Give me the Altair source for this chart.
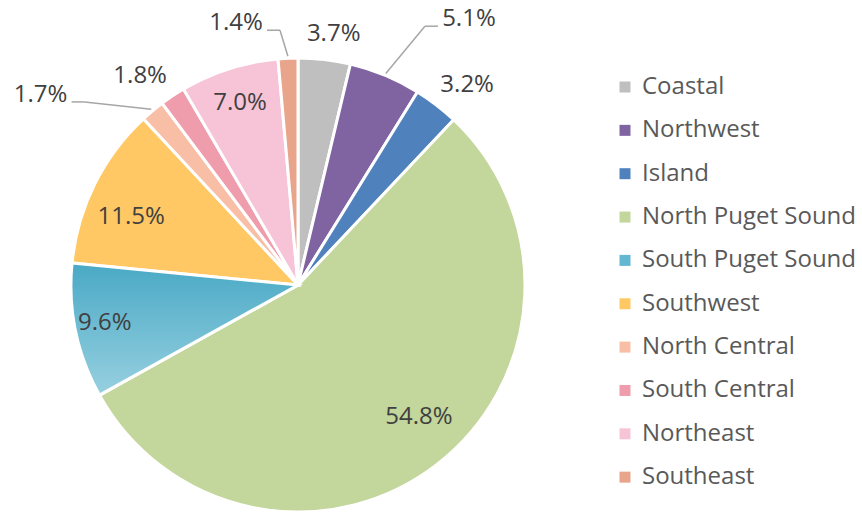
import altair as alt
import pandas as pd

# ---- data ----
regions = ["Coastal", "Northwest", "Island", "North Puget Sound", "South Puget Sound",
           "Southwest", "North Central", "South Central", "Northeast", "Southeast"]
shares = [3.7, 5.1, 3.2, 54.8, 9.6, 11.5, 1.7, 1.8, 7.0, 1.4]

# ---- styling / layout ----
colors = ["#BFBFBF", "#8064A2", "#4F81BD", "#C3D69B", "#62B8D0",
          "#FFC864", "#F8BFA6", "#EF9CAD", "#F6C4D6", "#E8A58C"]
label_radius = [254, 316, 262, 179, 197, 180, 320, 262, 191, 269]
label_shift_deg = [1.4, 10.2, 2.7, -4.6, 0.6, -4.3, -13.7, -3.5, 0.0, -10.8]
leader = [False, True, False, False, False, False, True, False, False, True]

CX, CY, R = 298, 285, 227

df = pd.DataFrame({
    "region": regions,
    "value": shares,
    "order": list(range(len(regions))),
    "lr": label_radius,
    "ls": label_shift_deg,
    "leader": leader,
})

base = (
    alt.Chart(df)
    .transform_joinaggregate(total="sum(value)")
    .transform_window(cum="sum(value)", sort=[alt.SortField("order")], frame=[None, 0])
    .transform_calculate(t0="2*PI*(datum.cum-datum.value)/datum.total")
    .transform_calculate(t1="2*PI*datum.cum/datum.total")
    .transform_calculate(tm="(datum.t0+datum.t1)/2")
    .transform_calculate(tl="datum.tm + datum.ls*PI/180")
    .transform_calculate(label="format(datum.value, '.1f') + '%'")
)

arcs = base.mark_arc(outerRadius=R, stroke="white", strokeWidth=3).encode(
    theta=alt.Theta("t0:Q", scale=None),
    theta2="t1:Q",
    x=alt.value(CX),
    y=alt.value(CY),
    color=alt.Color(
        "region:N",
        scale=alt.Scale(domain=regions, range=colors),
        sort=regions,
        legend=alt.Legend(title=None, orient="none", legendX=613, legendY=75,
                          symbolType="square", symbolSize=121, symbolStrokeWidth=0,
                          labelFontSize=24, labelFont="Open Sans", labelColor="#595959",
                          labelLimit=400, rowPadding=19.35, labelOffset=5, padding=0),
    ),
)

grad = alt.LinearGradient(
    gradient="linear",
    stops=[alt.GradientStop(offset=0, color="#49A9C5"),
           alt.GradientStop(offset=1, color="#97D0E0")],
    x1=0, x2=0, y1=0, y2=1,
)
sps = base.transform_filter(alt.datum.region == "South Puget Sound").mark_arc(
    outerRadius=R, stroke="white", strokeWidth=3, fill=grad
).encode(
    theta=alt.Theta("t0:Q", scale=None),
    theta2="t1:Q",
    x=alt.value(CX),
    y=alt.value(CY),
)

labels = base.mark_text(font="Open Sans", fontSize=24, color="#404040",
                        align="center", baseline="middle").encode(
    theta=alt.Theta("tl:Q", scale=None),
    radius=alt.Radius("lr:Q", scale=None),
    x=alt.value(CX),
    y=alt.value(CY),
    text="label:N",
)

lead = (
    base.transform_filter(alt.datum.leader)
    .transform_calculate(sx=f"{CX} + {R + 2}*sin(datum.tm)")
    .transform_calculate(sy=f"{CY} - {R + 2}*cos(datum.tm)")
    .transform_calculate(lx=f"{CX} + datum.lr*sin(datum.tl)")
    .transform_calculate(ly=f"{CY} - datum.lr*cos(datum.tl)")
    .transform_calculate(side="sin(datum.tl) > 0 ? -1 : 1")
    .transform_calculate(ex="datum.lx + datum.side*44")
    .transform_calculate(ey="datum.ly + 7")
    .transform_calculate(fx="datum.lx + datum.side*31")
)
seg1 = lead.mark_rule(color="#A6A6A6", strokeWidth=1.5).encode(
    x=alt.X("sx:Q", scale=None), y=alt.Y("sy:Q", scale=None),
    x2="ex:Q", y2="ey:Q",
)
seg2 = lead.mark_rule(color="#A6A6A6", strokeWidth=1.5).encode(
    x=alt.X("ex:Q", scale=None), y=alt.Y("ey:Q", scale=None),
    x2="fx:Q", y2="ey:Q",
)

chart = (
    alt.layer(arcs, sps, seg1, seg2, labels)
    .properties(width=862, height=514, padding=0, autosize="none", background="white")
    .configure_view(stroke=None)
)

chart.save("out.html", embed_options={"renderer": "svg", "actions": False})
